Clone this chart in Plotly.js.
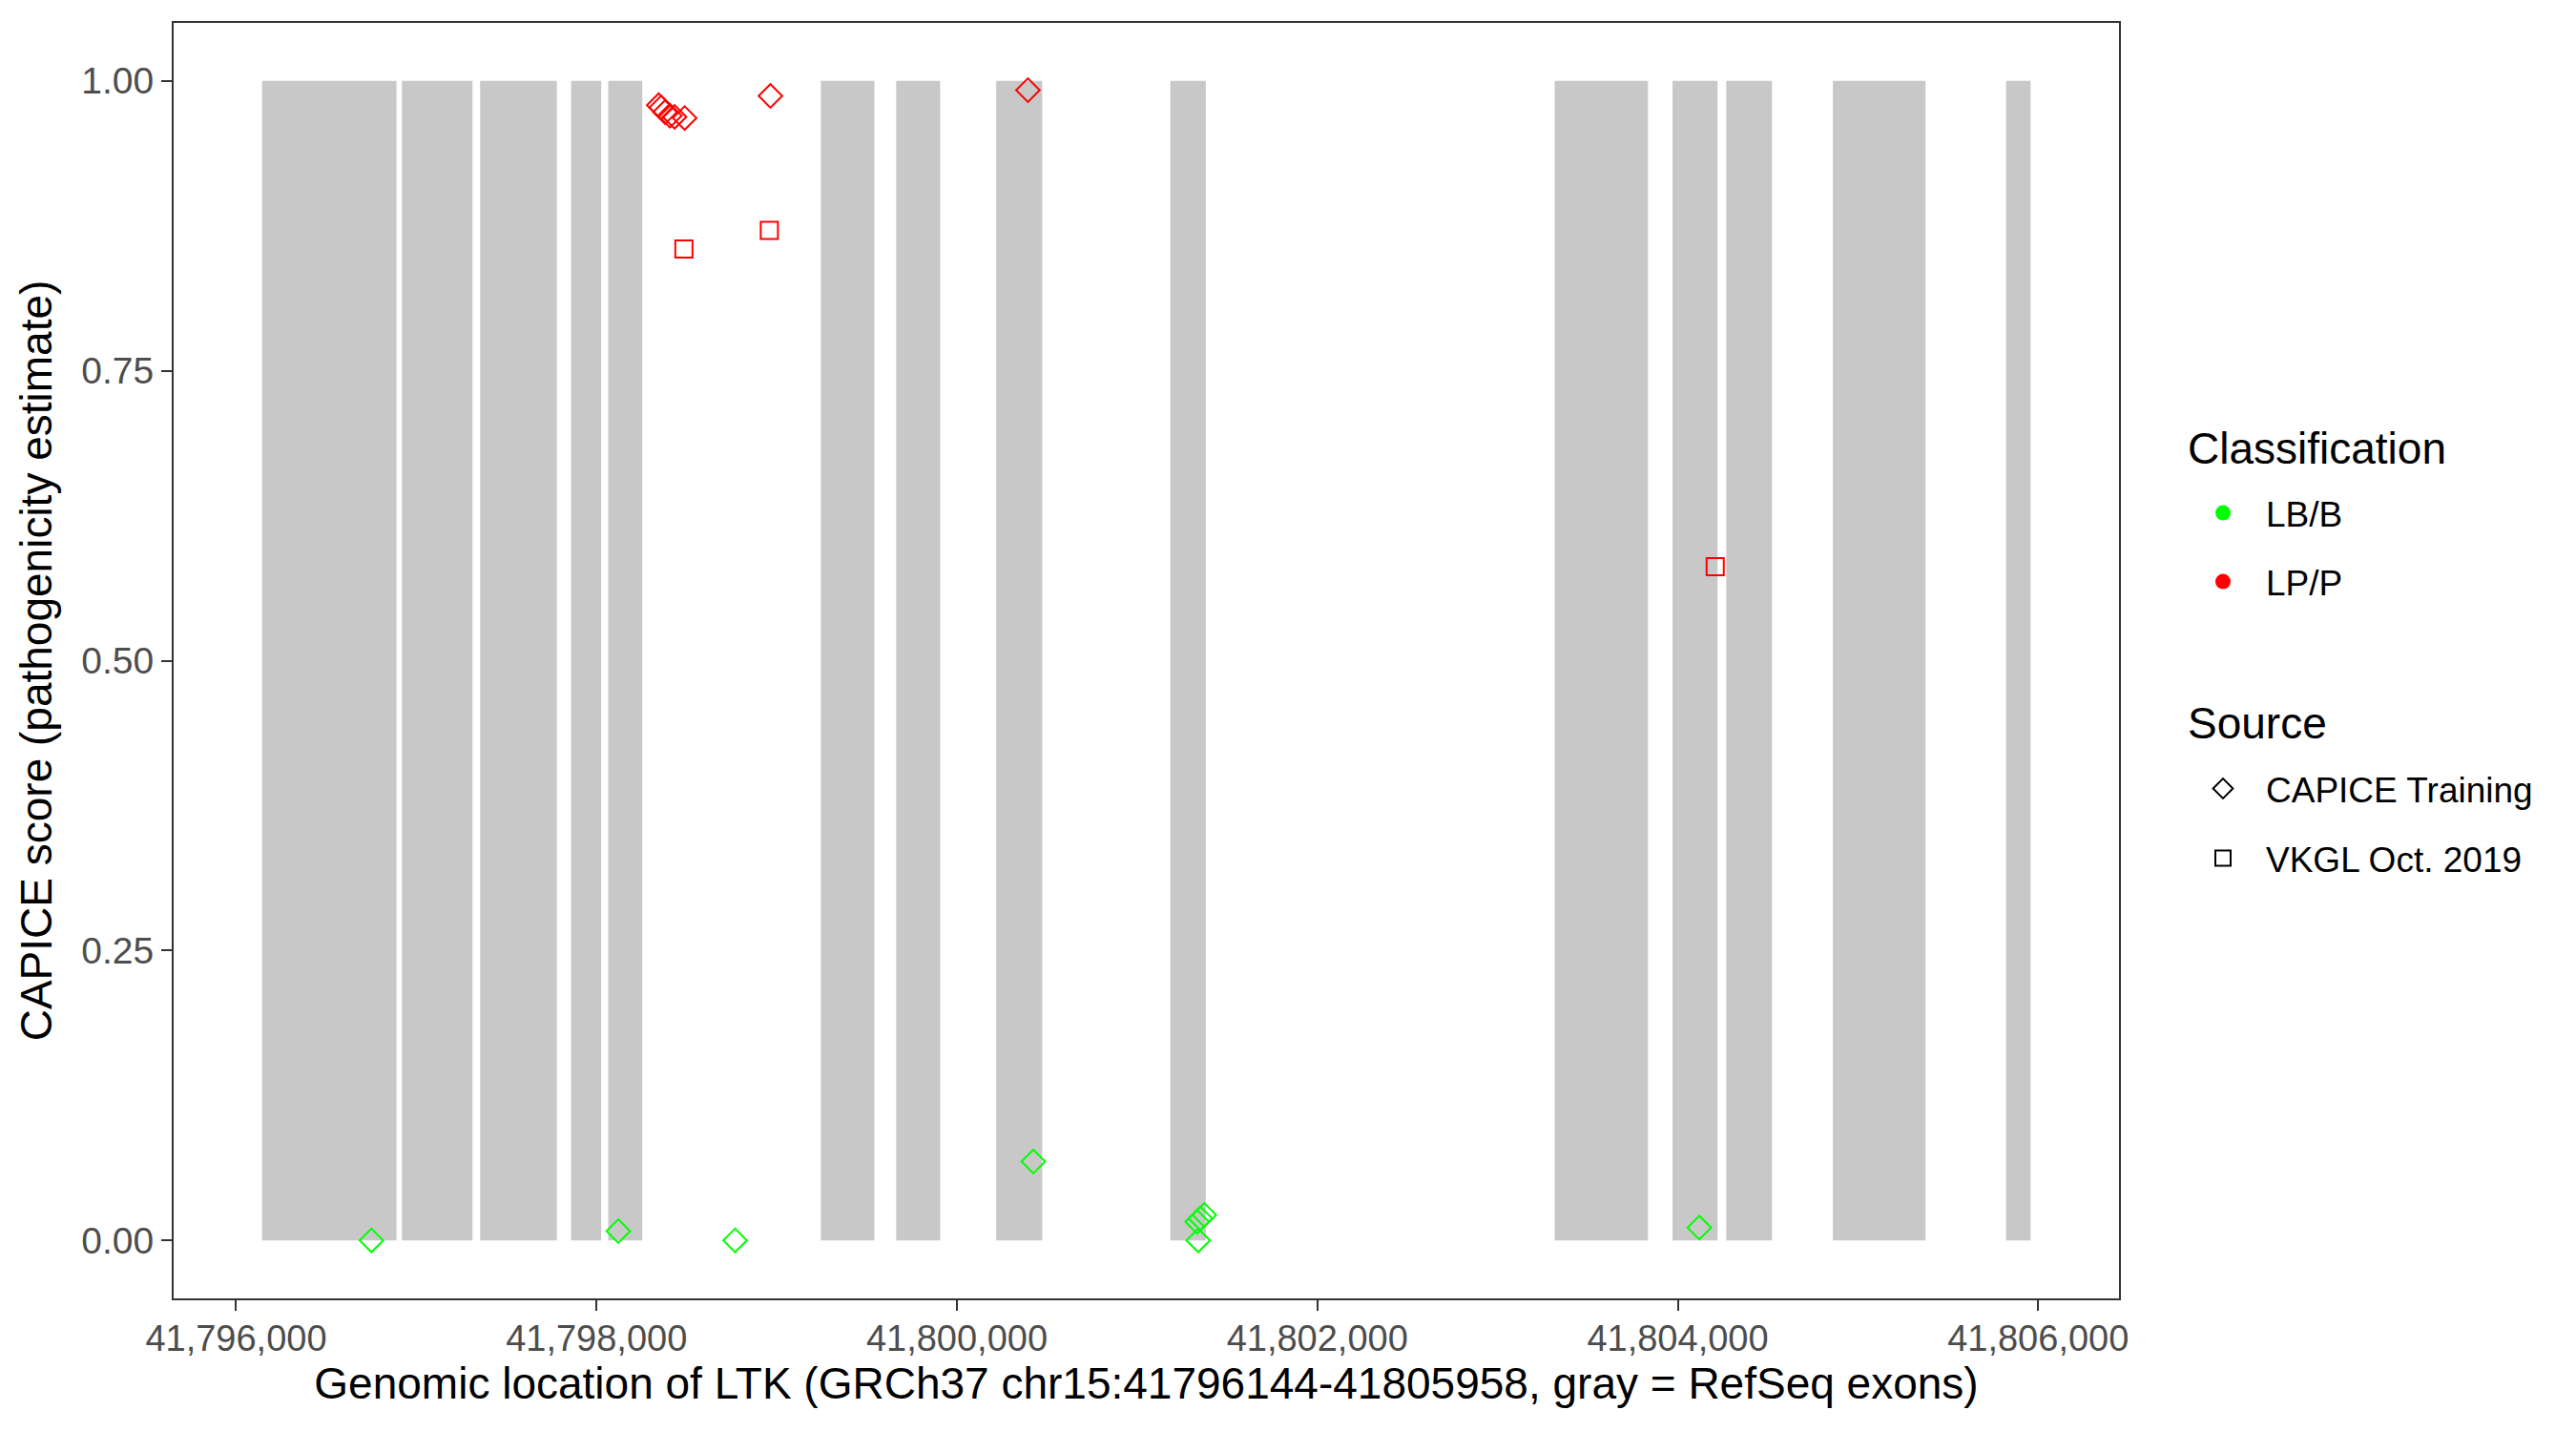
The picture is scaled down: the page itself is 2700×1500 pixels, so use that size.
<!DOCTYPE html>
<html><head><meta charset="utf-8">
<script src="https://cdn.plot.ly/plotly-3.0.1.min.js"></script>
<style>html,body{margin:0;padding:0;background:#fff}</style>
</head><body>
<div id="chart" style="width:2700px;height:1500px"></div>
<script>
// RefSeq exons of LTK (GRCh37 chr15)
const exonStart = [41796144, 41796920, 41797354, 41797859, 41798065, 41799245, 41799663, 41800218, 41801184, 41803317, 41803971, 41804269, 41804861, 41805822];
const exonEnd   = [41796890, 41797312, 41797780, 41798026, 41798254, 41799542, 41799907, 41800473, 41801381, 41803835, 41804221, 41804523, 41805375, 41805958];

// CAPICE Training, LP/P
const capicePathX = [41798345, 41798359, 41798380, 41798407, 41798433, 41798489, 41798965, 41800394];
const capicePathY = [0.979, 0.977, 0.973, 0.970, 0.969, 0.968, 0.987, 0.992];
// VKGL Oct. 2019, LP/P
const vkglPathX = [41798485, 41798959, 41804208];
const vkglPathY = [0.855, 0.871, 0.581];
// CAPICE Training, LB/B
const capiceBenX = [41796751, 41798121, 41798769, 41800424, 41801333, 41801351, 41801373, 41801339, 41804120];
const capiceBenY = [0.000, 0.008, 0.000, 0.068, 0.016, 0.019, 0.022, 0.000, 0.011];

const geneStart = 41796144, geneEnd = 41805958;
const xTicks = [41796000, 41798000, 41800000, 41802000, 41804000, 41806000];
const yTicks = [0, 0.25, 0.5, 0.75, 1];
const yTickText = ['0.00', '0.25', '0.50', '0.75', '1.00'];

const classNames = ['LB/B', 'LP/P'];
const classColors = ['#00FF00', '#FF0000'];
const sourceNames = ['CAPICE Training', 'VKGL Oct. 2019'];
const sourceSymbols = ['diamond-open', 'square-open'];

const W = 2700, H = 1500;
const M = {l: 182, r: 479, t: 24, b: 139};
const pxX = p => (p - M.l) / (W - M.l - M.r);
const pxY = p => (H - M.b - p) / (H - M.t - M.b);
const FONT = '"Liberation Sans", Arial, Helvetica, sans-serif';

const pad = (geneEnd - geneStart) * 0.05;

const shapes = exonStart.map((s, i) => ({
  type: 'rect', xref: 'x', yref: 'y', x0: s, x1: exonEnd[i], y0: 0, y1: 1,
  fillcolor: '#C8C8C8', line: {width: 0}, layer: 'below'
}));

const mk = (sym, col, sz) => ({symbol: sym, size: sz, color: col, line: {color: col, width: 2}});

const traces = [
  {type: 'scatter', mode: 'markers', x: capiceBenX, y: capiceBenY, marker: mk(sourceSymbols[0], classColors[0], 19), showlegend: false, hoverinfo: 'x+y'},
  {type: 'scatter', mode: 'markers', x: capicePathX, y: capicePathY, marker: mk(sourceSymbols[0], classColors[1], 19), showlegend: false, hoverinfo: 'x+y'},
  {type: 'scatter', mode: 'markers', x: vkglPathX, y: vkglPathY, marker: mk(sourceSymbols[1], classColors[1], 18), showlegend: false, hoverinfo: 'x+y'},
  // legend keys
  {type: 'scatter', mode: 'markers', x: [null], y: [null], name: classNames[0], legend: 'legend',
   marker: {symbol: 'circle', size: 16, color: classColors[0]}},
  {type: 'scatter', mode: 'markers', x: [null], y: [null], name: classNames[1], legend: 'legend2',
   marker: {symbol: 'circle', size: 16, color: classColors[1]}},
  {type: 'scatter', mode: 'markers', x: [null], y: [null], name: sourceNames[0], legend: 'legend3',
   marker: {symbol: sourceSymbols[0], size: 16, color: '#000', line: {color: '#000', width: 2}}},
  {type: 'scatter', mode: 'markers', x: [null], y: [null], name: sourceNames[1], legend: 'legend4',
   marker: {symbol: sourceSymbols[1], size: 16, color: '#000', line: {color: '#000', width: 2}}}
];

const legendBase = (yPx) => ({
  x: pxX(2285), xanchor: 'left', y: pxY(yPx), yanchor: 'middle',
  itemwidth: 80,
  font: {family: FONT, size: 37, color: '#000'}, bgcolor: 'rgba(0,0,0,0)', borderwidth: 0,
  itemclick: false, itemdoubleclick: false
});

const layout = {
  width: W, height: H,
  paper_bgcolor: '#fff', plot_bgcolor: '#fff',
  margin: M,
  font: {family: FONT, color: '#000'},
  shapes: shapes,
  xaxis: {
    range: [geneStart - pad, geneEnd + pad],
    tickvals: xTicks, tickformat: ',d',
    ticks: 'outside', ticklen: 11, tickwidth: 2, tickcolor: '#333333',
    ticklabelstandoff: -4,
    tickfont: {family: FONT, size: 38, color: '#4D4D4D'},
    showline: true, mirror: true, linecolor: '#333333', linewidth: 2,
    showgrid: false, zeroline: false, automargin: false,
    title: {text: 'Genomic location of LTK (GRCh37 chr15:41796144-41805958, gray = RefSeq exons)',
            font: {family: FONT, size: 46, color: '#000'}, standoff: 8}
  },
  yaxis: {
    range: [-0.05, 1.05],
    tickvals: yTicks, ticktext: yTickText,
    ticks: 'outside', ticklen: 11, tickwidth: 2, tickcolor: '#333333',
    tickfont: {family: FONT, size: 39, color: '#4D4D4D'},
    showline: true, mirror: true, linecolor: '#333333', linewidth: 2,
    showgrid: false, zeroline: false, automargin: false,
    title: {text: 'CAPICE score (pathogenicity estimate)',
            font: {family: FONT, size: 46, color: '#000'}, standoff: 16}
  },
  legend: legendBase(538),
  legend2: legendBase(610),
  legend3: legendBase(827),
  legend4: legendBase(900),
  annotations: [
    {text: 'Classification', xref: 'paper', yref: 'paper', x: pxX(2291), y: pxY(470), xanchor: 'left', yanchor: 'middle',
     showarrow: false, font: {family: FONT, size: 46, color: '#000'}},
    {text: 'Source', xref: 'paper', yref: 'paper', x: pxX(2291), y: pxY(758), xanchor: 'left', yanchor: 'middle',
     showarrow: false, font: {family: FONT, size: 46, color: '#000'}}
  ]
};

Plotly.newPlot('chart', traces, layout, {displayModeBar: false, staticPlot: false});
</script>
</body></html>
